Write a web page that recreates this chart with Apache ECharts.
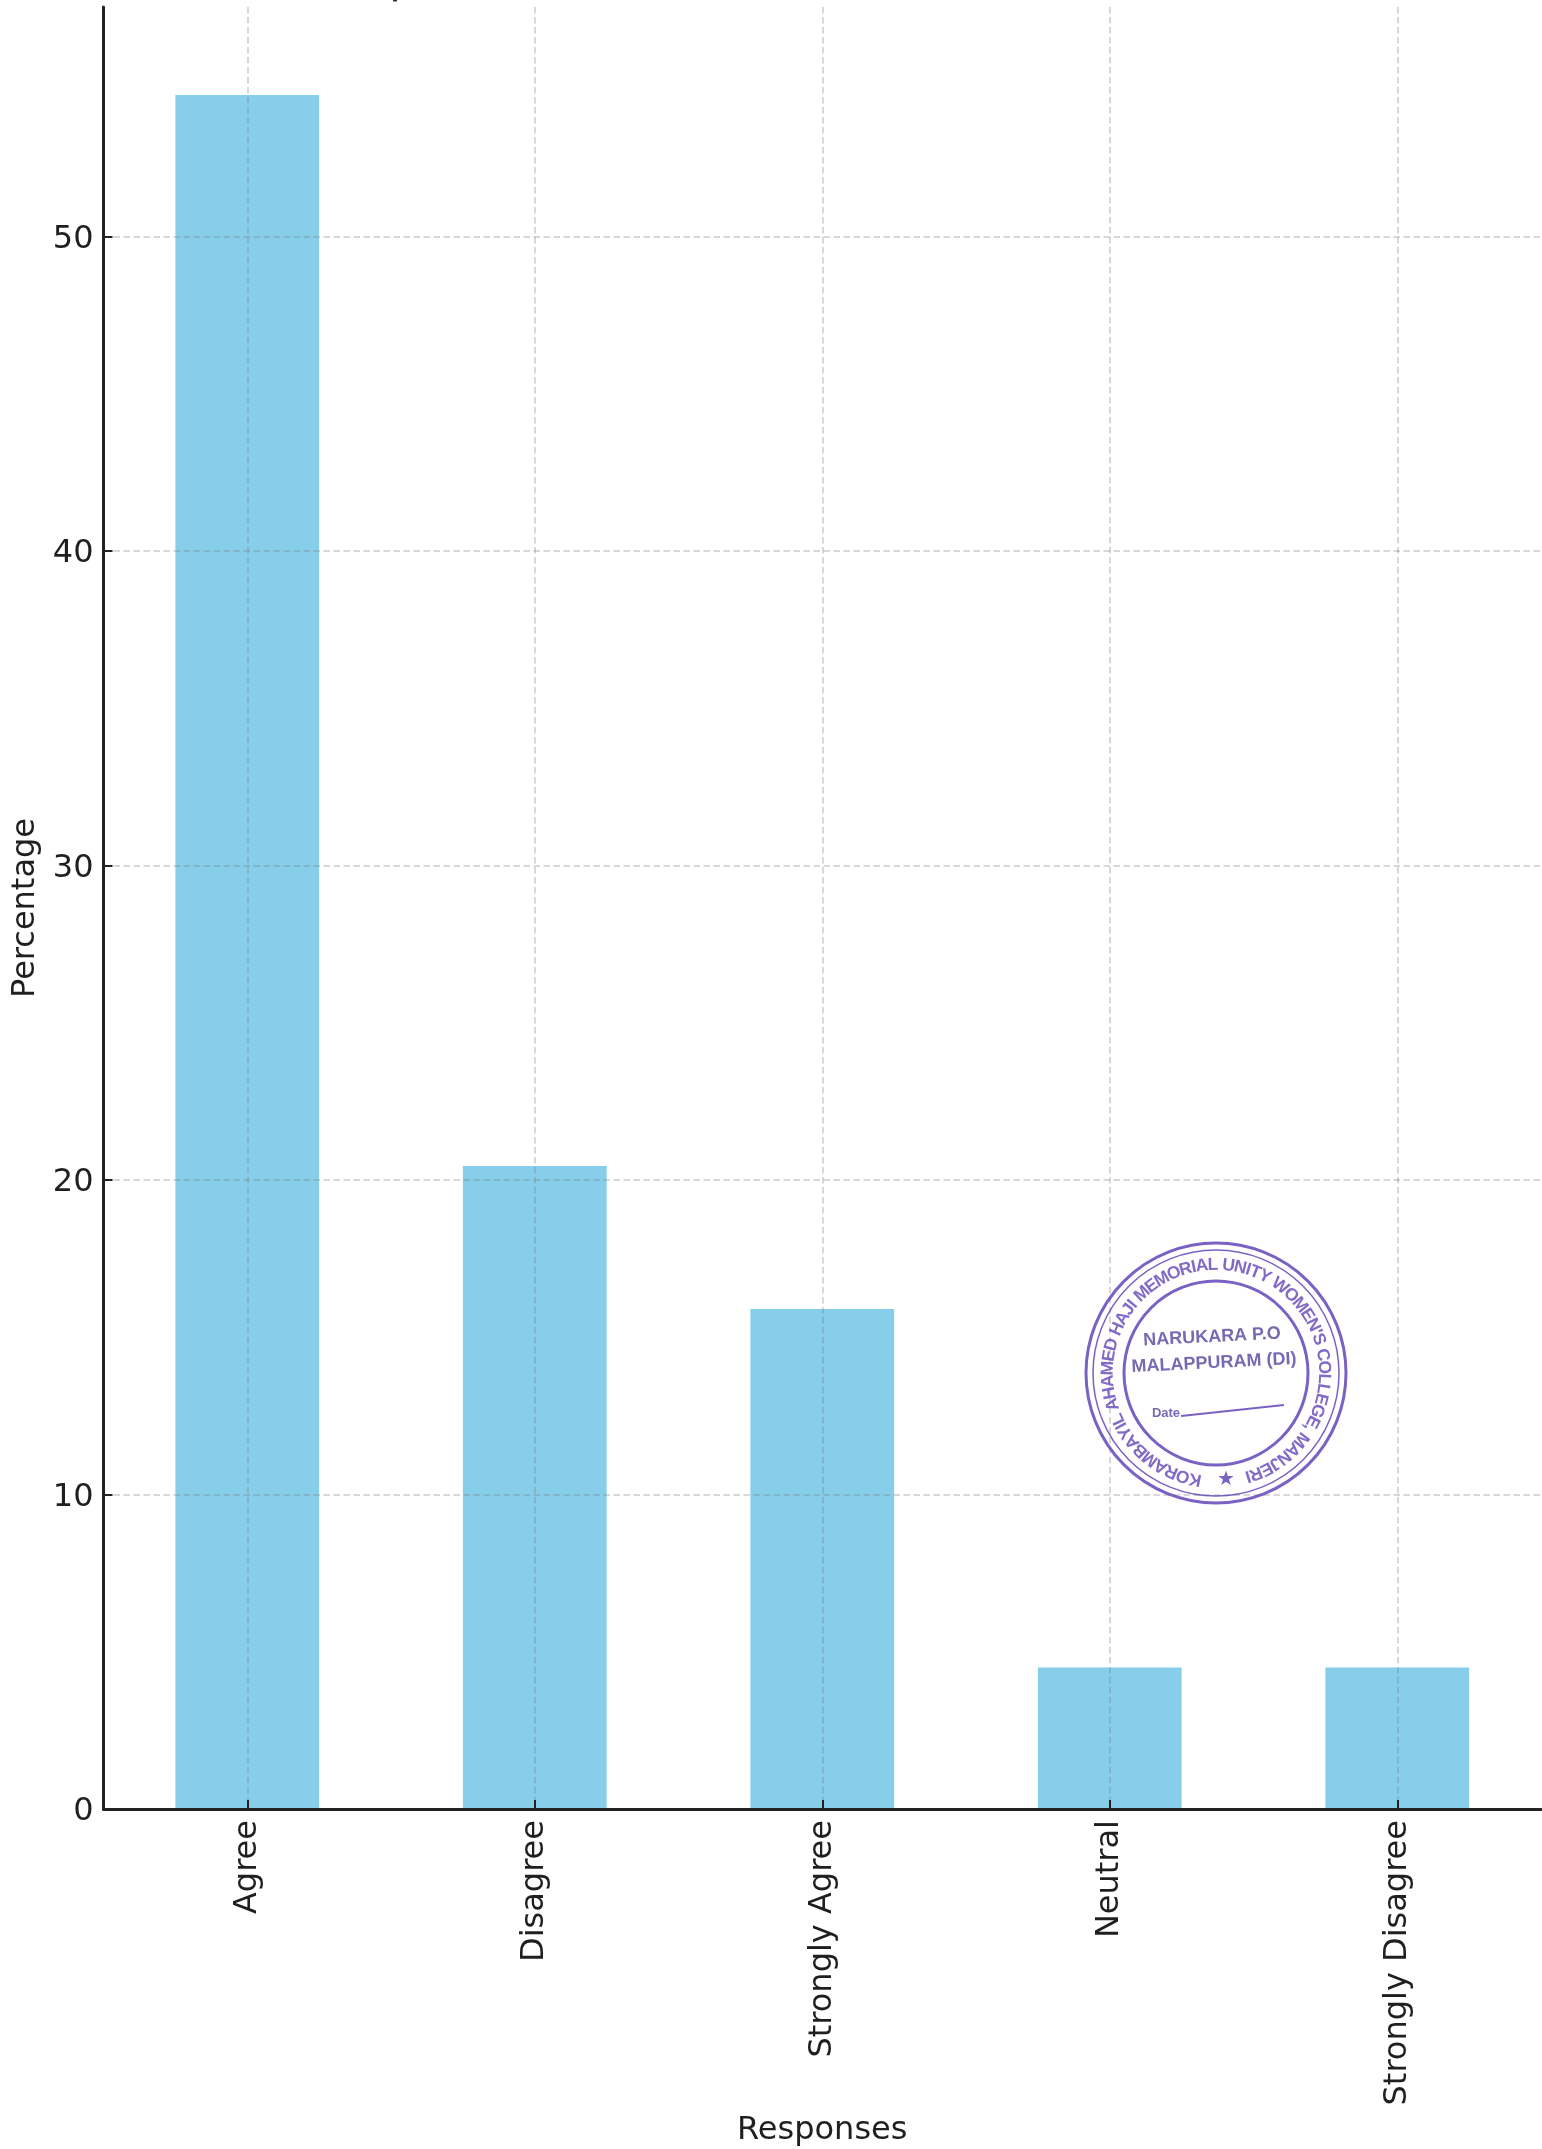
<!DOCTYPE html>
<html><head><meta charset="utf-8">
<style>html,body{margin:0;padding:0;background:#fff}#c{width:1542px;height:2149px}</style>
<script src="https://cdn.jsdelivr.net/npm/echarts@6/dist/echarts.min.js"></script>
</head><body><div id="c"></div>
<script>
const categories = ['Agree','Disagree','Strongly Agree','Neutral','Strongly Disagree'];
const percentages = [54.5,20.45,15.9,4.5,4.5];
const yTicks = [0,10,20,30,40,50];
const xTitle = 'Responses';
const yTitle = 'Percentage';
const FONT = '"DejaVu Sans"';
const INK = '#1f1f1f';
const STAMP = '#6246b8';
const GRID = {color:'rgba(125,125,125,0.4)',width:1.5,type:[6.5,3.5]};
const chart = echarts.init(document.getElementById('c'),null,{renderer:'canvas'});
const cx=1216, cy=1373;
const stampZ={zlevel:1,z:10};
const mctx=document.createElement('canvas').getContext('2d');
function ring(r,w){return {type:'circle',shape:{cx,cy,r},style:{fill:'none',stroke:STAMP,lineWidth:w,opacity:.85},...stampZ};}
function arcText(str,startDeg,endDeg,r,font){
  mctx.font=font;
  const widths=[...str].map(ch=>mctx.measureText(ch).width);
  const total=widths.reduce((a,b)=>a+b,0);
  let run=0;const out=[];
  [...str].forEach((ch,i)=>{
    const a=(startDeg+(endDeg-startDeg)*(run+widths[i]/2)/total)*Math.PI/180;
    run+=widths[i];
    out.push({type:'text',x:cx+r*Math.sin(a),y:cy-r*Math.cos(a),rotation:-a,
      style:{text:ch,fill:STAMP,opacity:.8,font,align:'center',verticalAlign:'middle'},...stampZ});
  });
  return out;
}
const inner=(text,x,y,size,rot)=>({type:'text',x,y,rotation:rot,style:{text,fill:'#5f4fa5',opacity:.85,font:'bold '+size+'px "Liberation Sans"',align:'center',verticalAlign:'middle'},...stampZ});
const stamp=[ring(130,3),ring(123,1.5),ring(92,3),
 ...arcText("KORAMBAYIL AHAMED HAJI MEMORIAL UNITY WOMEN'S COLLEGE, MANJERI",-172,164,108,'bold 17.5px "Liberation Sans"'),
 inner('NARUKARA P.O',1212,1337,18,0.05),
 inner('MALAPPURAM (DI)',1214,1363,18,0.05),
 inner('Date',1166,1413,13,0),
 {type:'line',shape:{x1:1181,y1:1416,x2:1284,y2:1405},style:{stroke:STAMP,lineWidth:2,opacity:.85},...stampZ},
 {type:'text',x:1226,y:1480,style:{text:'★',fill:STAMP,opacity:.85,font:'20px '+FONT,align:'center',verticalAlign:'middle'},...stampZ},
 {type:'rect',shape:{x:393,y:0,width:4,height:1.5},style:{fill:'#333'}}
];
// hidden helper axis: half-step positions so the vertical grid lines fall on category centres
const halfSteps=[''];
categories.forEach(c=>halfSteps.push(c,''));
chart.setOption({
  animation:false,backgroundColor:'#fff',
  grid:{left:103.5,right:1,top:7,bottom:340,containLabel:false,outerBoundsMode:'none'},
  xAxis:[{type:'category',data:categories,z:4,
    name:xTitle,nameLocation:'middle',nameGap:306,nameTextStyle:{fontFamily:FONT,fontSize:32,color:INK},
    axisLine:{lineStyle:{color:'#222',width:3}},
    axisTick:{show:true,alignWithLabel:true,length:9,inside:true,lineStyle:{color:'#222',width:2}},
    axisLabel:{rotate:90,fontFamily:FONT,fontSize:32,color:INK,margin:11,interval:0},
    splitLine:{show:false}
  },{type:'category',data:halfSteps,boundaryGap:false,position:'bottom',z:3,
    axisLine:{show:false},axisTick:{show:false},axisLabel:{show:false},
    splitLine:{show:true,interval:(i)=>i%2===1,lineStyle:GRID}
  }],
  yAxis:{type:'value',min:0,max:57.3,interval:10,z:3,
    name:yTitle,nameLocation:'middle',nameGap:61,nameTextStyle:{fontFamily:FONT,fontSize:32,color:INK},
    axisLine:{show:true,lineStyle:{color:'#222',width:3}},
    axisTick:{show:true,length:9,inside:true,customValues:yTicks,lineStyle:{color:'#222',width:2}},
    axisLabel:{fontFamily:FONT,fontSize:32,color:INK,margin:10,verticalAlign:'top',padding:[-13,0,0,0],customValues:yTicks},
    splitLine:{show:true,showMinLine:false,lineStyle:GRID}
  },
  series:[{type:'bar',data:percentages,barWidth:'50%',z:2,itemStyle:{color:'#87ceeb'}}],
  graphic:{elements:stamp}
});
const layers=document.querySelectorAll('#c canvas');
if(layers.length>1) layers[layers.length-1].style.filter='blur(0.7px)';
</script></body></html>
